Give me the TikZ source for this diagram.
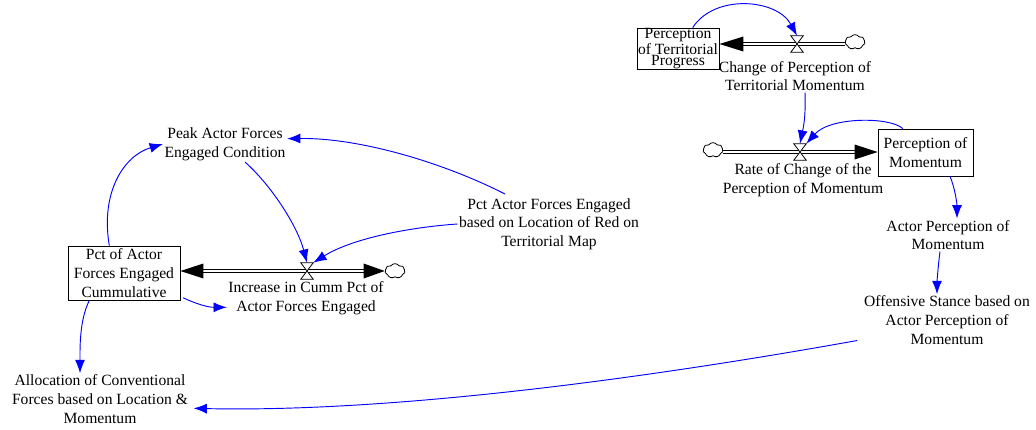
\documentclass[tikz,border=0pt]{standalone}
\usepackage{fontspec}
\setmainfont{Liberation Serif}
\usetikzlibrary{arrows.meta,shapes.symbols}
\newcommand{\fs}{\fontsize{11.7}{14}\selectfont}
\newcommand{\fstight}{\fontsize{11.7}{8.3}\selectfont}
\tikzset{
  lbl/.style={align=center, inner sep=1pt, font=\fs},
  stock/.style={draw, line width=0.6pt, inner sep=0pt, align=center, font=\fs},
  infl/.style={blue, line width=0.7pt, -{Latex[length=10pt,width=7.5pt]}},
  pipe/.style={double, line width=0.7pt, double distance=2.2pt},
  valve/.style={minimum width=9pt, minimum height=12pt, inner sep=0pt},
  cld/.style={cloud, draw, fill=white, line width=0.6pt, cloud puffs=7, cloud puff arc=110, aspect=1.3, minimum width=15pt, minimum height=11pt, inner sep=0pt},
}
\begin{document}
\begin{tikzpicture}[x=0.75pt,y=-0.75pt]
\useasboundingbox (0,0) rectangle (1036,429);
% stocks
\node[stock, font=\fstight, minimum width=61.5pt, minimum height=30.75pt] (ptp) at (678,48.5)
  {\makebox[0pt]{Perception}\\\makebox[0pt]{of Territorial}\\\makebox[0pt]{Progress}};
\node[stock, minimum width=71.25pt, minimum height=35.25pt] (pom) at (925.5,152.5) {Perception of\\Momentum};
\node[stock, minimum width=84pt, minimum height=40.5pt] (pct) at (124,273) {Pct of Actor\\Forces Engaged\\Cummulative};
% labels
\node[lbl] (cpt) at (795,76) {Change of Perception of\\Territorial Momentum};
\node[lbl] (rcp) at (803,180) {Rate of Change of the\\Perception of Momentum};
\node[lbl] (apm) at (948,235) {Actor Perception of\\Momentum};
\node[lbl] (osb) at (947,320) {Offensive Stance based on\\Actor Perception of\\Momentum};
\node[lbl] (acf) at (100,399) {Allocation of Conventional\\Forces based on Location \&\\Momentum};
\node[lbl] (icp) at (306,298) {Increase in Cumm Pct of\\Actor Forces Engaged};
\node[lbl] (pea) at (225,144) {Peak Actor Forces\\Engaged Condition};
\node[lbl] (pal) at (549,224) {Pct Actor Forces Engaged\\based on Location of Red on\\Territorial Map};
% valves and clouds
\node[valve] (v1) at (797,44) {};
\node[valve] (v2) at (800,152) {};
\node[valve] (v3) at (307,271) {};
\node[cld] (c1) at (855,42) {};
\node[cld] (c2) at (713,150) {};
\node[cld] (c3) at (395,271) {};
% pipes
\draw[pipe, shorten >=12pt] (c1.west |- v1) -- (ptp.east |- v1);
\fill (ptp.east |- v1) -- ++(24,-7.5) -- ++(0,15) -- cycle;
\draw[pipe, shorten >=12pt] (c2.east |- v2) -- (pom.west |- v2);
\fill (pom.west |- v2) -- ++(-23,-7.5) -- ++(0,15) -- cycle;
\draw[pipe, shorten >=12pt, shorten <=12pt] (pct.east |- v3) -- (c3.west |- v3);
\fill (pct.east |- v3) -- ++(23,-7.5) -- ++(0,15) -- cycle;
\fill (c3.west |- v3) -- ++(-21,-7.5) -- ++(0,15) -- cycle;
\foreach \v in {v1,v2,v3}
  \filldraw[fill=white, line width=0.6pt] (\v.north west) -- (\v.north east) -- (\v.south west) -- (\v.south east) -- cycle;
% influences
\draw[infl] ([xshift=11pt]ptp.north) .. controls +(22,-34) and +(-20,-37) .. (v1.north);
\draw[infl] ([xshift=7.5pt]cpt.south) .. controls +(1,25) and +(3,-15) .. (v2.north);
\draw[infl] ([xshift=-17pt]pom.north) .. controls +(-13,-12) and +(24,-27) .. (v2.north east);
\draw[infl] ([xshift=18.4pt]pom.south) .. controls +(5,12) and +(0,-15) .. ([xshift=6.75pt]apm.north);
\draw[infl] ([xshift=-6pt]apm.south) .. controls +(-2,15) and +(0,-12) .. ([xshift=-7.5pt]osb.north);
\draw[infl] ([xshift=-4pt,yshift=4pt]osb.south west) .. controls +(-240,43) and +(185,4) .. ([xshift=3pt,yshift=-7pt]acf.east);
\draw[infl] ([xshift=-11pt]pct.north) .. controls +(-9,-52) and +(-40,12) .. (pea.west);
\draw[infl] ([xshift=15pt]pea.south) .. controls +(25,22) and +(-10,-38) .. (v3.north);
\draw[infl] ([xshift=-33pt,yshift=2pt]pal.north) .. controls +(-65,-33) and +(70,-1) .. ([yshift=4pt]pea.east);
\draw[infl] (pal.west) .. controls +(-45,3) and +(40,-25) .. (v3.north east);
\draw[infl] ([xshift=2pt,yshift=2pt]pct.south east) .. controls +(15,7) and +(-18,0) .. ([yshift=-7pt]icp.west);
\draw[infl] ([xshift=-26pt]pct.south) .. controls +(-10,20) and +(0,-25) .. ([xshift=-15pt]acf.north);
\end{tikzpicture}
\end{document}
